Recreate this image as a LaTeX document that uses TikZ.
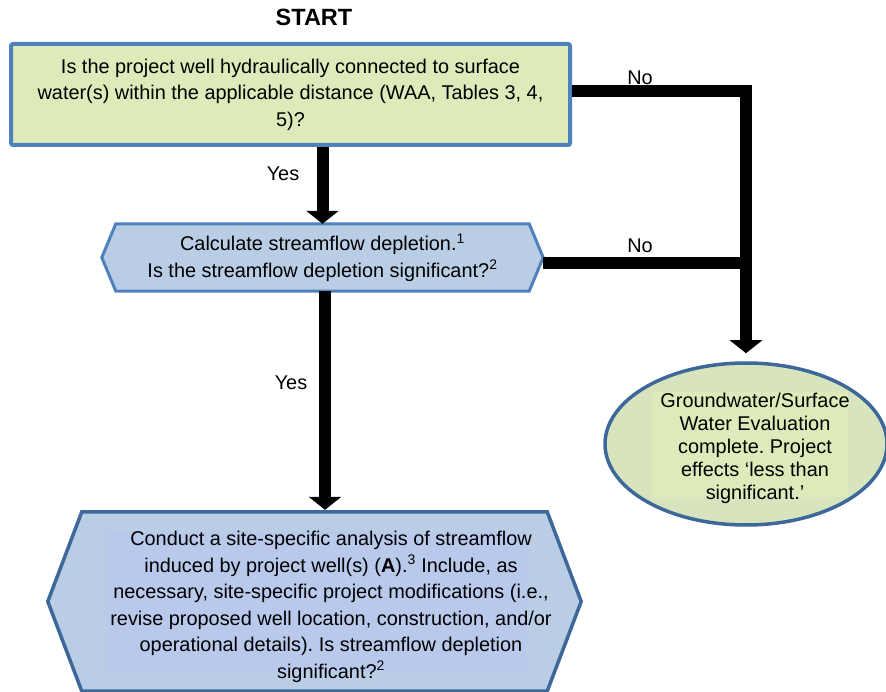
\documentclass[tikz,border=0pt]{standalone}
\usepackage{fontspec}
\setmainfont{Liberation Sans}
\usepackage{tikz}
\usetikzlibrary{arrows.meta}
\usetikzlibrary{shapes.geometric, backgrounds, positioning}
\frenchspacing
\definecolor{q-green}{HTML}{DDEAB9}
\definecolor{q-green2}{HTML}{D7E4BD}
\definecolor{q-blue}{HTML}{B9CDE5}
\definecolor{q-blue2}{HTML}{B8C9EC}
\definecolor{q-border}{HTML}{4F81BD}
\definecolor{q-dark}{HTML}{3D6899}
\tikzset{flow-line/.style={line width=12pt}}
\tikzset{flow-arrow/.style={line width=12pt, -{Triangle[width=32pt,length=13pt]}}}
\tikzset{flow-text/.style={font=\fontsize{19.9}{26.5}\selectfont, align=center, inner sep=0}}
\tikzset{flow-box/.style={flow-text, draw=q-border, line width=4pt, fill=q-green, rounded corners=2pt, minimum width=559pt, minimum height=101pt}}
\tikzset{flow-hex/.style={draw=q-border, line width=3pt, fill=q-blue}}
\tikzset{flow-hex-dark/.style={draw=q-dark, line width=3.5pt, fill=q-blue}}
\newcommand{\flowhex}[2]{([xshift=#2]#1.north west) -- ([xshift=-#2]#1.north east) -- (#1.east)
    -- ([xshift=-#2]#1.south east) -- ([xshift=#2]#1.south west) -- (#1.west) -- cycle}

\begin{document}
\begin{tikzpicture}[x=1pt, y=-1pt]
            \useasboundingbox (0,0) rectangle (886,692);

            \node[font=\bfseries\fontsize{23.5}{28}\selectfont] (start) at (314,17) {START};

            \node[flow-box] (q1) at (290.5,94.5) {Is the project well hydraulically connected to surface\\
                water(s) within the applicable distance (WAA, Tables 3, 4,\\ 5)?};

            \node[flow-text, minimum width=441pt, minimum height=67pt] (q2) at (322.5,257.5)
                {Calculate streamflow depletion.\textsuperscript{1}\\ Is the streamflow depletion significant?\textsuperscript{2}};

            \node[inner sep=0, minimum width=533pt, minimum height=179pt] (q3) at (314.5,601.5) {};
            \node[flow-text] (q3txt) at (331,607) {Conduct a site-specific analysis of streamflow\\
                induced by project well(s) (\textbf{A}).\textsuperscript{3} Include, as\\
                necessary, site-specific project modifications (i.e.,\\
                revise proposed well location, construction, and/or\\
                operational details). Is streamflow depletion\\ significant?\textsuperscript{2}};

            \node[ellipse, draw=q-dark, line width=3.5pt, fill=q-green2, inner sep=0,
                minimum width=282pt, minimum height=162pt] (q4) at (746,444) {};
            \fill[q-green] (652,392) rectangle (848,497);
            \node[flow-text, font=\fontsize{19.9}{23}\selectfont] (q4txt) at (755,448) {Groundwater/Surface\\
                Water Evaluation\\ complete. Project\\ effects ‘less than\\ significant.’};

            \begin{scope}[on background layer]
                \draw[flow-hex] \flowhex{q2}{14};
                \draw[flow-hex-dark] \flowhex{q3}{34};
                \fill[q-blue2] (106,532) rectangle (527,672);
            \end{scope}

            \draw[flow-arrow] (q1.south -| q2.north) -- (q2.north);
            \draw[flow-arrow, shorten >=2pt] ([xshift=2.5pt]q2.south) -- ([xshift=2.5pt]q2.south |- q3.north);
            \draw[flow-arrow, shorten >=8pt] ([yshift=3.5pt]q1.east) -| (q4.north);
            \draw[flow-line] ([yshift=-6pt]q2.east) -- ([yshift=-6pt]q2.east -| q4.north);

            \node[flow-text] (yes1) at (283,174) {Yes};
            \node[flow-text] (yes2) at (291,383) {Yes};
            \node[flow-text] (no1) at (640,78) {No};
            \node[flow-text] (no2) at (640,246) {No};

        \end{tikzpicture}
\end{document}
